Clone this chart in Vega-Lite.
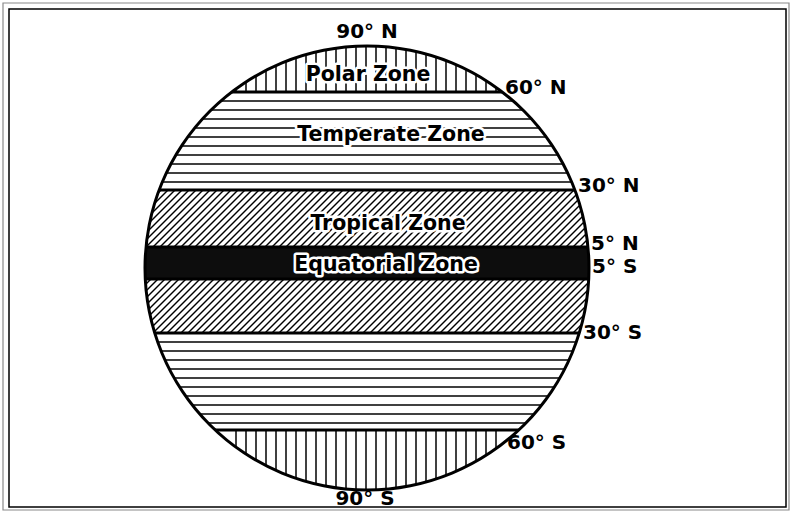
{
  "$schema": "https://vega.github.io/schema/vega-lite/v6.json",
  "width": 793,
  "height": 515,
  "padding": 0,
  "autosize": {"type": "none"},
  "background": "white",
  "config": {"view": {"stroke": null}},
  "layer": [
    {
      "data": {"values": [{"x": 140, "x2": 600, "y": 247, "y2": 279}]},
      "mark": {"type": "rect", "fill": "#0d0d0d"},
      "encoding": {
        "x": {"field": "x", "type": "quantitative", "scale": {"domain": [0, 793], "nice": false, "zero": false}, "axis": null},
        "x2": {"field": "x2"},
        "y": {"field": "y", "type": "quantitative", "scale": {"domain": [0, 515], "reverse": true, "nice": false, "zero": false}, "axis": null},
        "y2": {"field": "y2"}
      }
    },
    {
      "data": {"values": [
        {"y": 40, "y2": 92, "x": [236,246,256,266,276,286,296,306,316,326,336,346,356,366,376,386,396,406,416,426,436,446,456,466,476,486,496]},
        {"y": 430, "y2": 496, "x": [236,246,256,266,276,286,296,306,316,326,336,346,356,366,376,386,396,406,416,426,436,446,456,466,476,486,496]}
      ]},
      "transform": [{"flatten": ["x"]}],
      "mark": {"type": "rule", "stroke": "black", "strokeWidth": 1.5},
      "encoding": {
        "x": {"field": "x", "type": "quantitative", "scale": {"domain": [0, 793], "nice": false, "zero": false}, "axis": null},
        "y": {"field": "y", "type": "quantitative", "scale": {"domain": [0, 515], "reverse": true, "nice": false, "zero": false}, "axis": null},
        "y2": {"field": "y2"}
      }
    },
    {
      "data": {"values": [
        {"x": 140, "x2": 600, "y": [101,110,119,128,137,146,155,164,173,182,342,351,360,369,378,387,396,405,414,423]}
      ]},
      "transform": [{"flatten": ["y"]}],
      "mark": {"type": "rule", "stroke": "black", "strokeWidth": 1.3},
      "encoding": {
        "x": {"field": "x", "type": "quantitative", "scale": {"domain": [0, 793], "nice": false, "zero": false}, "axis": null},
        "x2": {"field": "x2"},
        "y": {"field": "y", "type": "quantitative", "scale": {"domain": [0, 515], "reverse": true, "nice": false, "zero": false}, "axis": null}
      }
    },
    {
      "data": {"values": [
        {"y": 247, "y2": 190,
         "x": [90,97,104,111,118,125,132,139,146,153,160,167,174,181,188,195,202,209,216,223,230,237,244,251,258,265,272,279,286,293,300,307,314,321,328,335,342,349,356,363,370,377,384,391,398,405,412,419,426,433,440,447,454,461,468,475,482,489,496,503,510,517,524,531,538,545,552,559,566,573,580,587],
         "x2": [147,154,161,168,175,182,189,196,203,210,217,224,231,238,245,252,259,266,273,280,287,294,301,308,315,322,329,336,343,350,357,364,371,378,385,392,399,406,413,420,427,434,441,448,455,462,469,476,483,490,497,504,511,518,525,532,539,546,553,560,567,574,581,588,595,602,609,616,623,630,637,644]},
        {"y": 333, "y2": 279,
         "x": [90,97,104,111,118,125,132,139,146,153,160,167,174,181,188,195,202,209,216,223,230,237,244,251,258,265,272,279,286,293,300,307,314,321,328,335,342,349,356,363,370,377,384,391,398,405,412,419,426,433,440,447,454,461,468,475,482,489,496,503,510,517,524,531,538,545,552,559,566,573,580,587],
         "x2": [144,151,158,165,172,179,186,193,200,207,214,221,228,235,242,249,256,263,270,277,284,291,298,305,312,319,326,333,340,347,354,361,368,375,382,389,396,403,410,417,424,431,438,445,452,459,466,473,480,487,494,501,508,515,522,529,536,543,550,557,564,571,578,585,592,599,606,613,620,627,634,641]}
      ]},
      "transform": [{"flatten": ["x", "x2"]}],
      "mark": {"type": "rule", "stroke": "black", "strokeWidth": 1.4},
      "encoding": {
        "x": {"field": "x", "type": "quantitative", "scale": {"domain": [0, 793], "nice": false, "zero": false}, "axis": null},
        "x2": {"field": "x2"},
        "y": {"field": "y", "type": "quantitative", "scale": {"domain": [0, 515], "reverse": true, "nice": false, "zero": false}, "axis": null},
        "y2": {"field": "y2"}
      }
    },
    {
      "data": {"values": [
        {"x": 140, "x2": 600, "y": [92,190,247,279,333,430]}
      ]},
      "transform": [{"flatten": ["y"]}],
      "mark": {"type": "rule", "stroke": "black", "strokeWidth": 2.8},
      "encoding": {
        "x": {"field": "x", "type": "quantitative", "scale": {"domain": [0, 793], "nice": false, "zero": false}, "axis": null},
        "x2": {"field": "x2"},
        "y": {"field": "y", "type": "quantitative", "scale": {"domain": [0, 515], "reverse": true, "nice": false, "zero": false}, "axis": null}
      }
    },
    {
      "data": {"values": [{"cx": 367, "cy": 268}]},
      "mark": {"type": "arc", "theta": 0, "theta2": 6.2832, "radius": 330, "radius2": 222, "fill": "white"},
      "encoding": {
        "x": {"field": "cx", "type": "quantitative", "scale": {"domain": [0, 793], "nice": false, "zero": false}, "axis": null},
        "y": {"field": "cy", "type": "quantitative", "scale": {"domain": [0, 515], "reverse": true, "nice": false, "zero": false}, "axis": null}
      }
    },
    {
      "data": {"values": [{"cx": 367, "cy": 268}]},
      "mark": {"type": "arc", "theta": 0, "theta2": 6.2832, "radius": 223.5, "radius2": 220.5, "fill": "black"},
      "encoding": {
        "x": {"field": "cx", "type": "quantitative", "scale": {"domain": [0, 793], "nice": false, "zero": false}, "axis": null},
        "y": {"field": "cy", "type": "quantitative", "scale": {"domain": [0, 515], "reverse": true, "nice": false, "zero": false}, "axis": null}
      }
    },
    {
      "data": {"values": [{"x": 3, "y": 3, "x2": 789, "y2": 510}]},
      "mark": {"type": "rect", "fill": null, "stroke": "#8a8a8a", "strokeWidth": 1.2},
      "encoding": {
        "x": {"field": "x", "type": "quantitative", "scale": {"domain": [0, 793], "nice": false, "zero": false}, "axis": null},
        "x2": {"field": "x2"},
        "y": {"field": "y", "type": "quantitative", "scale": {"domain": [0, 515], "reverse": true, "nice": false, "zero": false}, "axis": null},
        "y2": {"field": "y2"}
      }
    },
    {
      "data": {"values": [{"x": 9, "y": 9, "x2": 786, "y2": 507}]},
      "mark": {"type": "rect", "fill": null, "stroke": "black", "strokeWidth": 1.5},
      "encoding": {
        "x": {"field": "x", "type": "quantitative", "scale": {"domain": [0, 793], "nice": false, "zero": false}, "axis": null},
        "x2": {"field": "x2"},
        "y": {"field": "y", "type": "quantitative", "scale": {"domain": [0, 515], "reverse": true, "nice": false, "zero": false}, "axis": null},
        "y2": {"field": "y2"}
      }
    },
    {
      "data": {"values": [
        {"t": "Polar Zone", "x": 368, "y": 75},
        {"t": "Temperate Zone", "x": 391, "y": 135},
        {"t": "Tropical Zone", "x": 388, "y": 224},
        {"t": "Equatorial Zone", "x": 386, "y": 265}
      ]},
      "mark": {"type": "text", "font": "DejaVu Sans", "fontWeight": "bold", "fontSize": 20.5, "align": "center", "baseline": "middle", "fill": "black", "stroke": "white", "strokeWidth": 5, "strokeJoin": "round"},
      "encoding": {
        "x": {"field": "x", "type": "quantitative", "scale": {"domain": [0, 793], "nice": false, "zero": false}, "axis": null},
        "y": {"field": "y", "type": "quantitative", "scale": {"domain": [0, 515], "reverse": true, "nice": false, "zero": false}, "axis": null},
        "text": {"field": "t"}
      }
    },
    {
      "data": {"values": [
        {"t": "Polar Zone", "x": 368, "y": 75},
        {"t": "Temperate Zone", "x": 391, "y": 135},
        {"t": "Tropical Zone", "x": 388, "y": 224},
        {"t": "Equatorial Zone", "x": 386, "y": 265}
      ]},
      "mark": {"type": "text", "font": "DejaVu Sans", "fontWeight": "bold", "fontSize": 20.5, "align": "center", "baseline": "middle", "fill": "black"},
      "encoding": {
        "x": {"field": "x", "type": "quantitative", "scale": {"domain": [0, 793], "nice": false, "zero": false}, "axis": null},
        "y": {"field": "y", "type": "quantitative", "scale": {"domain": [0, 515], "reverse": true, "nice": false, "zero": false}, "axis": null},
        "text": {"field": "t"}
      }
    },
    {
      "data": {"values": [
        {"t": "90° N", "x": 367, "y": 32},
        {"t": "90° S", "x": 365, "y": 499}
      ]},
      "mark": {"type": "text", "font": "DejaVu Sans", "fontWeight": "bold", "fontSize": 20, "align": "center", "baseline": "middle", "fill": "black"},
      "encoding": {
        "x": {"field": "x", "type": "quantitative", "scale": {"domain": [0, 793], "nice": false, "zero": false}, "axis": null},
        "y": {"field": "y", "type": "quantitative", "scale": {"domain": [0, 515], "reverse": true, "nice": false, "zero": false}, "axis": null},
        "text": {"field": "t"}
      }
    },
    {
      "data": {"values": [
        {"t": "60° N", "x": 505, "y": 88},
        {"t": "30° N", "x": 578, "y": 186},
        {"t": "5° N", "x": 591, "y": 244},
        {"t": "5° S", "x": 592, "y": 267},
        {"t": "30° S", "x": 583, "y": 333},
        {"t": "60° S", "x": 507, "y": 443}
      ]},
      "mark": {"type": "text", "font": "DejaVu Sans", "fontWeight": "bold", "fontSize": 20, "align": "left", "baseline": "middle", "fill": "black"},
      "encoding": {
        "x": {"field": "x", "type": "quantitative", "scale": {"domain": [0, 793], "nice": false, "zero": false}, "axis": null},
        "y": {"field": "y", "type": "quantitative", "scale": {"domain": [0, 515], "reverse": true, "nice": false, "zero": false}, "axis": null},
        "text": {"field": "t"}
      }
    }
  ]
}
